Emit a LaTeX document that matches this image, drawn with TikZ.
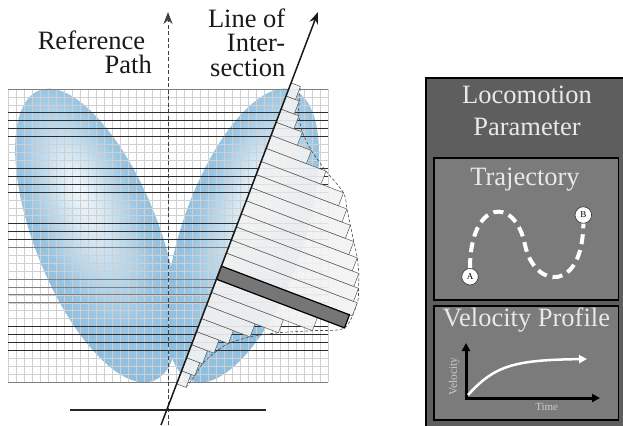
\documentclass[tikz,border=0pt]{standalone}
\usepackage{fontspec}
\setmainfont{Liberation Serif}
\usetikzlibrary{arrows.meta,calc}
\definecolor{EllBlue}{HTML}{8DBEDF}
\definecolor{GridLight}{HTML}{D0D0D0}
\definecolor{GridMid}{HTML}{7E7E7E}
\definecolor{GridDark}{HTML}{2E2E2E}
\definecolor{BarFill}{HTML}{F2F2F2}
\definecolor{BarDark}{HTML}{767676}
\definecolor{PanelDark}{HTML}{5E5E5E}
\definecolor{PanelMid}{HTML}{7B7B7B}
\definecolor{PanelText}{HTML}{E9E9E9}
\pgfdeclareradialshading{ellshade}{\pgfpoint{0bp}{8bp}}{%
  color(0bp)=(EllBlue!12); color(8bp)=(EllBlue!40); color(20bp)=(EllBlue!88);
  color(28bp)=(EllBlue); color(50bp)=(EllBlue)}
\newcommand{\labelfont}{\fontsize{26.5bp}{24.5bp}\selectfont}
\newcommand{\titlefont}{\fontsize{26.5bp}{32bp}\selectfont}

\begin{document}
\begin{tikzpicture}[x=1bp, y=-1bp,
  gridv/.style={draw=GridLight, line width=0.55bp},
  gridh/.style={draw=GridLight, line width=0.55bp},
  gridmid/.style={draw=GridMid, line width=0.9bp},
  griddark/.style={draw=GridDark, line width=0.9bp},
  bar/.style={fill=BarFill, fill opacity=0.9, draw=black!65, line width=0.5bp},
  darkbar/.style={fill=BarDark, draw=black, line width=1.2bp},
  envelope/.style={draw=black!70, line width=0.6bp, dash pattern=on 3bp off 2bp},
  refline/.style={draw=black!75, line width=0.9bp, dash pattern=on 4bp off 2.5bp,
                  -{Stealth[length=12bp,width=9bp]}},
  intline/.style={draw=black!90, line width=1.5bp, -{Stealth[length=12bp,width=9bp]}},
  groundline/.style={draw=black!85, line width=1.6bp},
  lbl/.style={font=\labelfont, text=black!90, inner sep=0pt},
  outerpanel/.style={rectangle, draw=black, line width=1.6bp, fill=PanelDark,
                     anchor=north west, inner sep=0pt},
  subpanel/.style={rectangle, draw=black, line width=1.6bp, fill=PanelMid,
                   anchor=north west, inner sep=0pt},
  paneltitle/.style={font=\titlefont, text=PanelText, inner sep=0pt, align=center},
  waypoint/.style={circle, fill=white, draw=black!80, line width=0.6bp,
                   minimum size=16.5bp, inner sep=0pt, font=\fontsize{9bp}{9bp}\selectfont},
  trajpath/.style={draw=white, line width=4bp, dash pattern=on 10bp off 6bp},
  axis/.style={draw=black, line width=3bp,
               {Triangle[length=8bp,width=8bp]}-{Triangle[length=8bp,width=8bp]}},
  profile/.style={draw=white, line width=2.5bp, -{Triangle[length=8bp,width=8bp]}},
  axislbl/.style={font=\fontsize{11.5bp}{11.5bp}\selectfont, text=black!20, inner sep=0pt}
]
  \useasboundingbox (0,0) rectangle (623,425);

  % blue lobes
  \begin{scope}[transform canvas={shift={(96.5,235.5)}, rotate=21.6}]
    \shade[shading=ellshade] (0,0) ellipse [x radius=62, y radius=156];
  \end{scope}
  \begin{scope}[transform canvas={shift={(242.5,235.5)}, rotate=-19.1}]
    \shade[shading=ellshade] (0,0) ellipse [x radius=61, y radius=154];
  \end{scope}

  % grid
  \foreach \i in {0,...,40}
    \draw[gridv] ({8.3+8*\i},89) -- ({8.3+8*\i},382);
  \foreach \k in {1,...,36}
    \draw[gridh] (8.3,{89+7.92*\k}) -- (328.3,{89+7.92*\k});
  \foreach \k in {0,20,24,25,26,27,37}
    \draw[gridmid] (8.3,{89+7.92*\k}) -- (328.3,{89+7.92*\k});
  \foreach \k in {3,4,5,6,10,11,12,13,17,18,19,30,31,32,33}
    \draw[griddark] (8.3,{89+7.92*\k}) -- (328.3,{89+7.92*\k});

  % histogram along the line of intersection
  \begin{scope}[shift={(161,425)}, rotate=-20.82]
    \draw[envelope] plot[smooth] coordinates {(10,-44) (14,-58) (17,-72) (24,-86)
      (34,-100) (52,-114) (77,-128) (108,-142) (137,-156) (140,-184) (136,-198)
      (131,-212) (124,-226) (115,-240) (106,-254) (97,-268) (88,-282) (64,-296)
      (43,-310) (28,-324) (19,-338) (14,-352) (10,-366)};
    \foreach \k/\t in {0/10, 1/14, 2/17, 3/24, 4/34, 5/52, 6/77, 7/108,
                       9/140, 10/136, 11/131, 12/124, 13/115, 14/106, 15/97,
                       16/88, 17/64, 18/43, 19/28, 20/19, 21/14, 22/10}
      \draw[bar] (0,{-44-14*\k}) rectangle (\t,{-58-14*\k});
    \draw[darkbar] (0,-156) rectangle (137,-170);
  \end{scope}

  % reference path and line of intersection
  \coordinate (refS) at (168,425);
  \coordinate (refE) at (168,12);
  \coordinate (intS) at (161,425);
  \coordinate (intE) at (318,12);
  \coordinate (groundW) at (70,410);
  \coordinate (groundE) at (266,410);
  \draw[refline] (refS) -- (refE);
  \draw[intline] (intS) -- (intE);
  \draw[groundline] (groundW) -- (groundE);

  \node[lbl, align=right, anchor=base east] (reflbl) at (152,73.5)
        {Reference\kern6.6bp\\Path};
  \node[lbl, align=right, anchor=base east] (intlbl) at (285.5,76)
        {Line of\\Inter-\\section};

  % parameter panel
  \node[outerpanel, minimum width=215bp, minimum height=370bp] (param) at (425,77) {};
  \node[paneltitle, anchor=base] (paramtitle) at (527,135) {Locomotion\\Parameter};

  \node[subpanel, minimum width=184.5bp, minimum height=142bp] (traj) at (433,157) {};
  \node[paneltitle, anchor=base] (trajtitle) at (525,185) {Trajectory};
  \node[waypoint] (ptA) at (470,276.7) {A};
  \node[waypoint] (ptB) at (583.3,215) {B};
  \draw[trajpath] (ptA.north) .. controls (470,200) and (515,195) .. (525,245)
        .. controls (535,290) and (583,292) .. (ptB.south);

  \node[subpanel, minimum width=184.5bp, minimum height=114bp] (velo) at (433,305) {};
  \node[paneltitle, anchor=base] (velotitle) at (526.5,326.7) {Velocity Profile};
  \coordinate (vtop) at (466,343);
  \coordinate (origin) at (466,398);
  \coordinate (tend) at (600,398);
  \draw[axis] (vtop) -- (origin) -- (tend);
  \coordinate (vstart) at (468,395);
  \coordinate (vend) at (587,359);
  \draw[profile] (vstart) .. controls (495,365) and (515,360) .. (vend);
  \node[axislbl, rotate=90] (vlbl) at (454,376.7) {Velocity};
  \node[axislbl, font=\fontsize{11bp}{11bp}\selectfont] (tlbl) at (546.7,406.7) {Time};
\end{tikzpicture}
\end{document}
